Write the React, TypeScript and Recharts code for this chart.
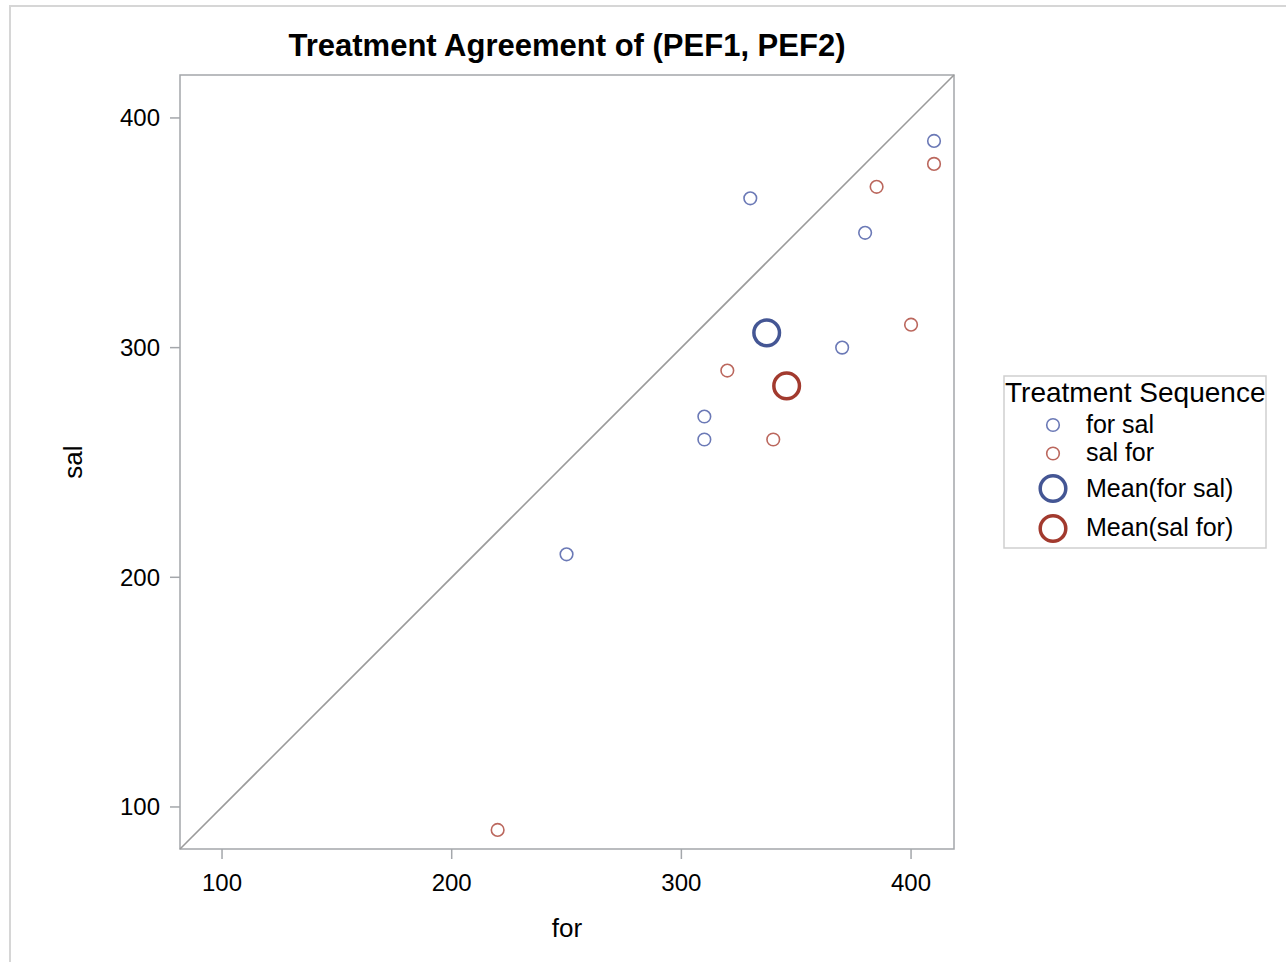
import { ScatterChart, Scatter, XAxis, YAxis, ReferenceLine, ReferenceArea } from 'recharts';

// PEF readings per subject, grouped by treatment sequence
const forSalFor = [330, 410, 380, 370, 310, 310, 250];
const forSalSal = [365, 390, 350, 300, 270, 260, 210];
const salForFor = [410, 385, 400, 320, 340, 220];
const salForSal = [380, 370, 310, 290, 260, 90];

const axisTicks = [100, 200, 300, 400];
const axisMin = 81.7;
const axisMax = 418.7;

const FONT = '"Liberation Sans", Arial, sans-serif';
const AXIS_GRAY = '#a4a7ab';

const toPoints = (xs: number[], ys: number[]) => xs.map((x, i) => ({ x, y: ys[i] }));
const mean = (v: number[]) => v.reduce((a, b) => a + b, 0) / v.length;

const forSalPoints = toPoints(forSalFor, forSalSal);
const salForPoints = toPoints(salForFor, salForSal);
const forSalMean = [{ x: mean(forSalFor), y: mean(forSalSal) }];
const salForMean = [{ x: mean(salForFor), y: mean(salForSal) }];

const series = [
  { name: 'for sal', data: forSalPoints, color: '#6b79b6', r: 6.3, sw: 1.6 },
  { name: 'sal for', data: salForPoints, color: '#bb675d', r: 6.3, sw: 1.6 },
  { name: 'Mean(for sal)', data: forSalMean, color: '#445694', r: 12.8, sw: 3.5 },
  { name: 'Mean(sal for)', data: salForMean, color: '#a23a2e', r: 12.8, sw: 3.5 },
];

const ring = (color: string, r: number, sw: number) => (props: any) => (
  <circle cx={props.cx} cy={props.cy} r={r} fill="none" stroke={color} strokeWidth={sw} />
);

const legendRows = [
  { y: 425, textY: 433 },
  { y: 453.5, textY: 461 },
  { y: 488.5, textY: 497 },
  { y: 528.5, textY: 536 },
];

function LegendBox() {
  return (
    <svg
      width={264}
      height={174}
      style={{ position: 'absolute', left: 1003, top: 375 }}
    >
      <rect x={1} y={1} width={262} height={172} fill="#fff" stroke="#cfcfcf" strokeWidth={1.5} />
      <text x={2} y={26.5} fontFamily={FONT} fontSize={28} fill="#000">
        Treatment Sequence
      </text>
      {series.map((s, i) => (
        <g key={s.name}>
          <circle
            cx={50}
            cy={legendRows[i].y - 375}
            r={s.r}
            fill="none"
            stroke={s.color}
            strokeWidth={s.sw}
          />
          <text x={83} y={legendRows[i].textY - 375} fontFamily={FONT} fontSize={25} fill="#000">
            {s.name}
          </text>
        </g>
      ))}
    </svg>
  );
}

export default function App() {
  return (
    <div
      style={{
        position: 'absolute',
        left: 0,
        top: 0,
        width: 1286,
        height: 962,
        overflow: 'hidden',
        background: '#fff',
        fontFamily: FONT,
      }}
    >
      <div
        style={{
          position: 'absolute',
          left: 9,
          top: 5,
          width: 1400,
          height: 1100,
          border: '2px solid #d6d6d6',
        }}
      />
      <div
        style={{
          position: 'absolute',
          left: 180,
          width: 774,
          top: 30,
          textAlign: 'center',
          fontSize: 31,
          lineHeight: '31px',
          fontWeight: 'bold',
          color: '#000',
        }}
      >
        Treatment Agreement of (PEF1, PEF2)
      </div>
      <div style={{ position: 'absolute', left: 0, top: 0 }}>
        <ScatterChart width={1286} height={962} margin={{ top: 75, right: 332, bottom: 0, left: 0 }}>
          <XAxis
            type="number"
            dataKey="x"
            domain={[axisMin, axisMax]}
            ticks={axisTicks}
            allowDataOverflow
            height={113}
            axisLine={false}
            tickLine={{ stroke: AXIS_GRAY, strokeWidth: 1.5 }}
            tickSize={10}
            tickMargin={15}
            tick={{ fill: '#000', fontSize: 24, fontFamily: FONT }}
            label={{ value: 'for', position: 'insideBottom', offset: 25, fill: '#000', fontSize: 26, fontFamily: FONT }}
          />
          <YAxis
            type="number"
            dataKey="y"
            domain={[axisMin, axisMax]}
            ticks={axisTicks}
            allowDataOverflow
            width={180}
            axisLine={false}
            tickLine={{ stroke: AXIS_GRAY, strokeWidth: 1.5 }}
            tickSize={10}
            tickMargin={10}
            tick={{ fill: '#000', fontSize: 24, fontFamily: FONT }}
            label={{ value: 'sal', position: 'center', angle: -90, dx: -17, fill: '#000', fontSize: 26, fontFamily: FONT }}
          />
          <ReferenceArea
            x1={axisMin}
            x2={axisMax}
            y1={axisMin}
            y2={axisMax}
            fill="none"
            fillOpacity={0}
            stroke={AXIS_GRAY}
            strokeWidth={1.5}
            ifOverflow="visible"
          />
          <ReferenceLine
            segment={[
              { x: axisMin, y: axisMin },
              { x: axisMax, y: axisMax },
            ]}
            stroke="#9b9b9b"
            strokeWidth={1.6}
            ifOverflow="visible"
          />
          {series.map((s) => (
            <Scatter
              key={s.name}
              name={s.name}
              data={s.data}
              shape={ring(s.color, s.r, s.sw)}
              isAnimationActive={false}
            />
          ))}
        </ScatterChart>
      </div>
      <LegendBox />
    </div>
  );
}
